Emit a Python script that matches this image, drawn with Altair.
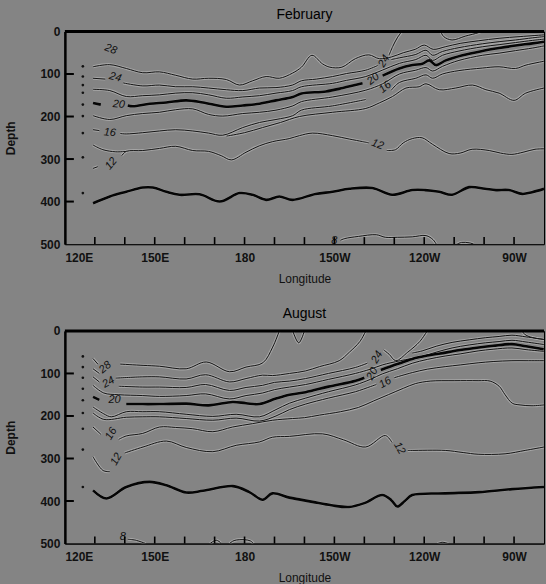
import altair as alt
import pandas as pd

# ---------------- February contours: (longitude east, depth m) ----------------
feb_28a = [(232.5, 0), (231, 15), (229.5, 35), (228.3, 55)]
feb_28b = [(245.5, 0), (246.5, 12), (249.3, 20), (253.7, 11), (258, 3), (259, 0)]
feb_26 = [(129.4, 83), (135, 78), (140.5, 87), (146, 97), (151.6, 95), (157, 103), (162.7, 112), (168, 110),
          (173.9, 113), (178.3, 126), (182.7, 116), (187.2, 106), (191.6, 110), (196, 98), (199, 84), (202.5, 56),
          (206, 76), (208.5, 84), (212.5, 84), (217, 64), (221.5, 55), (225, 64), (229, 60), (233, 50), (237, 42),
          (240, 32), (243, 42), (247, 36), (252, 28), (258, 22), (265, 16), (272, 12), (280, 8)]
feb_24a = [(129.4, 110), (133.5, 112)]
feb_24b = [(139.5, 121), (146, 128), (151.6, 126), (157, 130), (162.7, 130), (168, 133), (173.9, 137), (179.4, 139),
           (185, 133), (190.5, 132), (196, 126), (199, 116), (204, 112), (209.4, 106), (214, 99), (220.5, 91),
           (224.5, 80)]
feb_24c = [(229, 66), (231.7, 62), (237.2, 54), (240.6, 44), (242.8, 56), (246.1, 47), (251.6, 38), (259.4, 29),
           (265, 24), (270.5, 20), (276.1, 15), (280, 12)]
feb_22 = [(129.4, 136), (135, 139), (140.5, 153), (146, 151), (151.6, 149), (157, 145), (162.7, 144), (168, 149),
          (173.9, 157), (179.4, 154), (185, 151), (190.5, 145), (196, 139), (199, 130), (209.4, 122), (214, 115),
          (220.5, 106), (226, 91), (231.7, 75), (237.2, 66), (240.6, 56), (242.8, 68), (246.1, 56), (251.6, 46),
          (259.4, 36), (265, 31), (270.5, 26), (276.1, 21), (280, 18)]
feb_20a = [(129.4, 168), (132, 172)]
feb_20b = [(141, 174), (142.7, 176), (148.3, 170), (153.9, 167), (160.5, 162), (166.1, 167), (173.9, 177),
           (179.4, 174), (185, 170), (190.5, 162), (196.1, 154), (199, 146), (207.2, 141), (212.8, 133), (219.4, 122)]
feb_20c = [(226.1, 104), (231.7, 87), (236.1, 79), (239.4, 76), (241.7, 68), (243.9, 79), (247.2, 68), (252.8, 56),
           (259.4, 46), (265, 39), (270.5, 33), (276.1, 28), (280, 24)]
feb_18 = [(129.4, 198), (135, 207), (140.5, 198), (146, 193), (151.6, 190), (157, 184), (162.7, 182), (168, 195),
          (172.7, 199), (179.4, 193), (185, 190), (190.5, 185), (196.1, 175), (199, 165), (209.4, 154), (220.5, 138),
          (226.1, 123), (231.7, 100), (237.2, 91), (240.6, 85), (242.8, 93), (246.1, 82), (251.6, 68), (259.4, 56),
          (265, 51), (270.5, 45), (276.1, 39), (280, 34)]
feb_16a = [(129.4, 231), (131.5, 233)]
feb_16b = [(138.5, 240), (140.5, 241), (146, 238), (151.6, 234), (157, 231), (162.7, 234), (168, 239), (172.7, 244),
           (179.4, 226), (185, 214), (190.5, 207), (196.1, 198), (199, 185), (209.4, 175), (220.5, 160)]
feb_16c = [(229, 138), (231.7, 120), (237.2, 110), (240.6, 102), (242.8, 110), (246.1, 100), (251.6, 92),
           (259.4, 86), (265, 83), (270.5, 87), (274, 79), (280, 70)]
feb_14a = [(129.4, 267), (132.7, 278), (137, 283), (140.5, 282)]
feb_14b = [(174, 246), (180, 238), (186, 226), (192, 214), (198.3, 200), (209.4, 190), (220.5, 181), (225, 168),
           (229.4, 153), (233.9, 133), (238.3, 130), (240.6, 123), (245, 137), (250.5, 133), (256.1, 126),
           (260.6, 137), (265, 145), (270, 162), (273.9, 145), (280, 133)]
feb_12a = [(129.4, 322), (131, 318)]
feb_12b = [(139, 292), (140.5, 282), (146, 280), (151.6, 275), (157, 270), (162.7, 280), (168, 282), (172.2, 292),
           (175.6, 302), (180.5, 284), (184.9, 269), (189.4, 259), (194.9, 252), (198.3, 245), (202.7, 239),
           (209.4, 245), (215, 253), (219.4, 259), (221.5, 262)]
feb_12c = [(227.5, 280), (230.4, 278), (233, 262), (236, 252), (239.3, 250), (242.7, 265), (248.3, 287), (252, 286),
           (256, 277), (261.7, 280), (265.5, 286), (269.3, 289), (273, 284), (277, 277), (280, 276)]
feb_10 = [(129.4, 404), (135, 388), (140.5, 377), (146, 367), (149.4, 367), (153.9, 377), (158.3, 384), (165, 383),
          (171.7, 400), (178.3, 380), (182.7, 384), (187.2, 396), (191.6, 388), (196, 396), (203.7, 382),
          (209.4, 377), (215, 370), (222.7, 368), (229.3, 384), (236, 373), (240.3, 373), (245, 377), (249.3, 384),
          (255, 366), (260.3, 370), (264, 373), (268.3, 373), (272.7, 382), (276, 378), (280, 370)]
feb_8a = [(212, 491), (213.5, 487), (218, 482), (224, 478), (227, 484), (231, 484), (236, 483), (240.6, 480),
          (243, 490), (244, 500)]
feb_8b = [(251, 500), (252.5, 496), (255, 497), (256.5, 500)]

feb_dot_depths = [82, 106, 126, 144, 172, 199, 239, 296, 380]
feb_label_text = ["28", "24", "20", "16", "12", "24", "20", "16", "12", "8"]
feb_label_lon = [135.3, 136.8, 138.0, 135.0, 135.5, 226.6, 223.0, 227.0, 224.4, 210.0]
feb_label_depth = [42, 108, 172, 238, 311, 70, 112, 131, 266, 492]
feb_label_angle = [20, 15, 5, 5, 310, 300, 320, 320, 20, 0]

# ---------------- August contours ----------------
aug_28a = [(129.4, 65), (131, 78)]
aug_28b = [(138.5, 78), (146.1, 81), (151.6, 83), (160.5, 89), (167.2, 73), (175, 96), (180.5, 85), (186.1, 75),
           (189.4, 38), (191.6, 0)]
aug_28c = [(196.1, 0), (198.1, 28), (200, 0)]
aug_28d = [(272.5, 0), (274, 10), (277, 17), (280, 20)]
aug_26a = [(129.4, 89), (131.5, 100)]
aug_26b = [(137, 111), (146, 108), (151.6, 108), (160.5, 113), (167, 103), (175, 120), (180.5, 112), (186, 104),
           (189.3, 105), (195, 100), (200.4, 94), (205, 84), (211.6, 70), (215, 50), (218.5, 25), (220.5, 0)]
aug_25v = [(241, 0), (238.5, 25), (234.5, 50), (230.5, 70), (228.3, 55), (226.5, 45)]
aug_24a = [(129.4, 108), (131.5, 120)]
aug_24b = [(138, 130), (146, 132), (151.6, 132), (160.5, 133), (167, 126), (175, 140), (180.5, 133), (186, 128),
           (190, 121), (195, 118), (200.4, 112), (208, 100), (217, 86), (221, 76)]
aug_24c = [(236, 52), (239.3, 47), (244, 36), (249.3, 27), (255, 21), (260.4, 16), (265, 13), (269.3, 10),
           (274, 14), (280, 20)]
aug_22 = [(129.4, 128), (133, 146), (138, 150), (146, 152), (151.6, 154), (160.5, 152), (167, 148), (175, 160),
          (180.5, 152), (186, 146), (190, 138), (195, 132), (200.4, 126), (208, 114), (217, 100), (222, 90),
          (226, 80), (232, 70), (239.3, 60), (244, 50), (249.3, 40), (255, 33), (260.4, 28), (265, 25), (269.3, 22),
          (274, 26), (280, 32)]
aug_20a = [(129.4, 155), (131.5, 162)]
aug_20b = [(140.5, 172), (146, 172), (151.6, 172), (160.5, 171), (168, 175), (176, 167), (180.5, 170), (185, 172),
           (190.5, 159), (195, 150), (200.4, 144), (208, 131), (217.1, 117), (220, 110)]
aug_20c = [(225.5, 92), (231, 78), (236, 66), (241, 58), (247.1, 51), (252, 45), (258.2, 39), (263, 35),
           (269.3, 31), (274, 36), (279.9, 43)]
aug_18 = [(129.4, 179), (133, 195), (135.5, 202), (140.5, 190), (146, 190), (151.6, 190), (160.5, 196), (169.4, 201),
          (177.2, 196), (185, 202), (190.5, 185), (195, 170), (200.4, 158), (208, 143), (217, 127), (222, 114),
          (226, 101), (231, 89), (236, 76), (241, 67), (247, 59), (252, 54), (258, 47), (263, 43), (269.3, 40),
          (274, 44), (280, 48)]
aug_17a = [(129.4, 193), (133, 208), (140.5, 203), (146, 202), (151.6, 202), (160.5, 206), (169.4, 210),
           (177.2, 205), (185, 212), (190.5, 200), (195, 185), (200.4, 172), (208, 158), (217, 143), (222, 131),
           (224, 126)]
aug_17b = [(230, 110), (236, 98), (241, 90), (247, 84), (252, 80), (258, 75), (263, 72), (269.3, 70), (274, 70),
           (280, 70)]
aug_16a = [(129.4, 226), (132, 243)]
aug_16b = [(138, 255), (140.5, 247), (146, 241), (151.6, 226), (157, 227), (162.7, 230), (169.4, 237), (176, 226),
           (182.7, 218), (189.4, 210), (196, 206), (200, 204), (205, 198), (212, 190), (218, 180), (223, 165),
           (228, 150), (233, 135), (237, 124), (242, 118), (250, 117), (258, 117), (262, 118), (265, 130),
           (267, 150), (269.4, 170), (272, 174), (276, 176), (280, 174)]
aug_12a = [(129.4, 296), (132.7, 328), (135, 331)]
aug_12b = [(140, 287), (146.1, 273), (153.9, 259), (160.5, 274), (169.4, 284), (177.2, 269), (185, 261),
           (189.3, 250), (195, 248), (206, 242), (213, 256), (220.4, 273), (227, 246), (229.2, 262)]
aug_12c = [(234.5, 281), (236, 281), (247, 281), (253, 286), (258, 290), (267, 289), (273.7, 281), (280, 273)]
aug_10 = [(129.4, 375), (133.9, 394), (140.5, 367), (148.3, 355), (153.9, 363), (160.5, 380), (166.1, 376),
          (176.1, 365), (181.6, 379), (186.1, 397), (189.3, 382), (195, 392), (202.7, 402), (209, 410),
          (214.9, 414), (220, 405), (226, 386), (229, 398), (231, 413), (233.5, 400), (236, 386), (247, 382),
          (258.3, 379), (269.3, 372), (280, 367)]
aug_8a = [(141, 490), (143.5, 492), (147, 500)]
aug_8b = [(168.5, 500), (170.5, 492), (172, 498)]
aug_8c = [(175, 500), (176.5, 493), (180, 491), (182, 494), (183, 500)]
aug_8d = [(244.5, 500), (246, 497), (248, 500)]

aug_dot_depths = [60, 85, 110, 136, 163, 193, 230, 279, 367]
aug_label_text = ["28", "24", "20", "16", "12", "8", "24", "20", "16", "12"]
aug_label_lon = [133.5, 134.6, 136.6, 135.5, 137.2, 139.3, 224.3, 222.7, 227.0, 231.7]
aug_label_depth = [86, 121, 163, 242, 302, 484, 62, 101, 122, 276]
aug_label_angle = [320, 330, 0, 300, 300, 0, 300, 300, 330, 60]

DOT_LON = 126
LON_LABEL_VALUES = [120, 150, 180, 210, 240, 270]
LON_MINOR_TICKS = [130, 140, 150, 160, 170, 180, 190, 200, 210, 220, 230, 240, 250, 260, 270]
DEPTH_LABEL_VALUES = [0, 100, 200, 300, 400, 500]
DEPTH_TICKS = [100, 200, 300, 400]

W, H = 480, 213
FONT = "Liberation Sans"

feb_thin = [feb_28a, feb_28b, feb_26, feb_24a, feb_24b, feb_24c, feb_22, feb_18, feb_16a, feb_16b, feb_16c,
            feb_14a, feb_14b, feb_12a, feb_12b, feb_12c, feb_8a, feb_8b]
feb_bold = [feb_20a, feb_20b, feb_20c, feb_10]
aug_thin = [aug_28a, aug_28b, aug_28c, aug_28d, aug_26a, aug_26b, aug_25v, aug_24a, aug_24b, aug_24c, aug_22,
            aug_18, aug_17a, aug_17b, aug_16a, aug_16b, aug_12a, aug_12b, aug_12c, aug_8a, aug_8b, aug_8c, aug_8d]
aug_bold = [aug_20a, aug_20b, aug_20c, aug_10]


def seg_frame(segs, bold):
    rows = []
    for s, pts in enumerate(segs):
        for i, (lon, d) in enumerate(pts):
            rows.append({"seg": f"{'b' if bold else 't'}{s}", "i": i, "lon": lon, "depth": d})
    return pd.DataFrame(rows)


x_enc = alt.X("lon:Q", scale=alt.Scale(domain=[120, 280], nice=False, zero=False),
              axis=alt.Axis(values=LON_LABEL_VALUES,
                            labelExpr="datum.value < 180 ? datum.value + 'E' : (datum.value == 180 ? '180' : (360 - datum.value) + 'W')",
                            ticks=False, grid=False, domainColor="#111", domainWidth=1.2,
                            labelFont=FONT, labelFontSize=12, labelFontWeight="bold", labelColor="#111",
                            labelPadding=8, title="Longitude", titleFont=FONT, titleFontSize=12,
                            titleFontWeight="normal", titleColor="#111", titlePadding=10))
y_enc = alt.Y("depth:Q", scale=alt.Scale(domain=[0, 500], reverse=True, nice=False, zero=False),
              axis=alt.Axis(values=DEPTH_LABEL_VALUES, ticks=False, grid=False, domainColor="#000",
                            domainWidth=2.5, labelFont=FONT, labelFontSize=12, labelFontWeight="bold",
                            labelColor="#111", labelPadding=5, title="Depth", titleFont=FONT,
                            titleFontSize=12, titleFontWeight="bold", titleColor="#111", titlePadding=22))


def panel(title, thin, bold, dot_depths, ltext, llon, ldepth, langle):
    thin_df = seg_frame(thin, False)
    bold_df = seg_frame(bold, True)
    all_df = pd.concat([thin_df, bold_df])
    base_line = dict(interpolate="catmull-rom", clip=True)
    halo = alt.Chart(all_df).mark_line(color="#cfcfcf", strokeWidth=3.0, opacity=0.45, **base_line).encode(
        x=x_enc, y=y_enc, detail="seg:N", order="i:Q")
    thin_l = alt.Chart(thin_df).mark_line(color="#141414", strokeWidth=1.0, **base_line).encode(
        x=x_enc, y=y_enc, detail="seg:N", order="i:Q")
    bold_l = alt.Chart(bold_df).mark_line(color="#050505", strokeWidth=2.6, **base_line).encode(
        x=x_enc, y=y_enc, detail="seg:N", order="i:Q")
    dots = alt.Chart(pd.DataFrame({"lon": [DOT_LON] * len(dot_depths), "depth": dot_depths})).mark_circle(
        size=7, color="#111", opacity=1).encode(x=x_enc, y=y_enc)
    lab_df = pd.DataFrame({"t": ltext, "lon": llon, "depth": ldepth, "a": langle})
    labels = alt.Chart(lab_df).mark_text(font=FONT, fontSize=11, fontStyle="italic", color="#111").encode(
        x=x_enc, y=y_enc, text="t:N", angle=alt.Angle("a:Q", scale=None))
    yt = alt.Chart(pd.DataFrame({"depth": DEPTH_TICKS})).mark_rule(color="#000", strokeWidth=2).encode(
        x=alt.value(0), x2=alt.value(9), y=y_enc)
    xt = alt.Chart(pd.DataFrame({"lon": LON_MINOR_TICKS})).mark_rule(color="#000", strokeWidth=1.6).encode(
        x=x_enc, y=alt.value(H), y2=alt.value(H - 7))
    top = alt.Chart(pd.DataFrame({"lon": [120]})).mark_rule(color="#000", strokeWidth=3).encode(
        x=alt.value(0), x2=alt.value(W), y=alt.value(0))
    return alt.layer(halo, thin_l, bold_l, dots, labels, yt, xt, top).properties(
        width=W, height=H,
        title=alt.TitleParams(title, font=FONT, fontSize=14, fontWeight="normal", color="#000",
                              anchor="middle", offset=4))


feb = panel("February", feb_thin, feb_bold, feb_dot_depths, feb_label_text, feb_label_lon, feb_label_depth,
            feb_label_angle)
aug = panel("August", aug_thin, aug_bold, aug_dot_depths, aug_label_text, aug_label_lon, aug_label_depth,
            aug_label_angle)

chart = alt.vconcat(feb, aug, spacing=21).configure(
    background="#848484", padding={"left": 4, "top": 6, "right": 0, "bottom": 0}
).configure_view(stroke="#000", strokeWidth=1)

chart.save("out.html", embed_options={"renderer": "svg", "actions": False})
